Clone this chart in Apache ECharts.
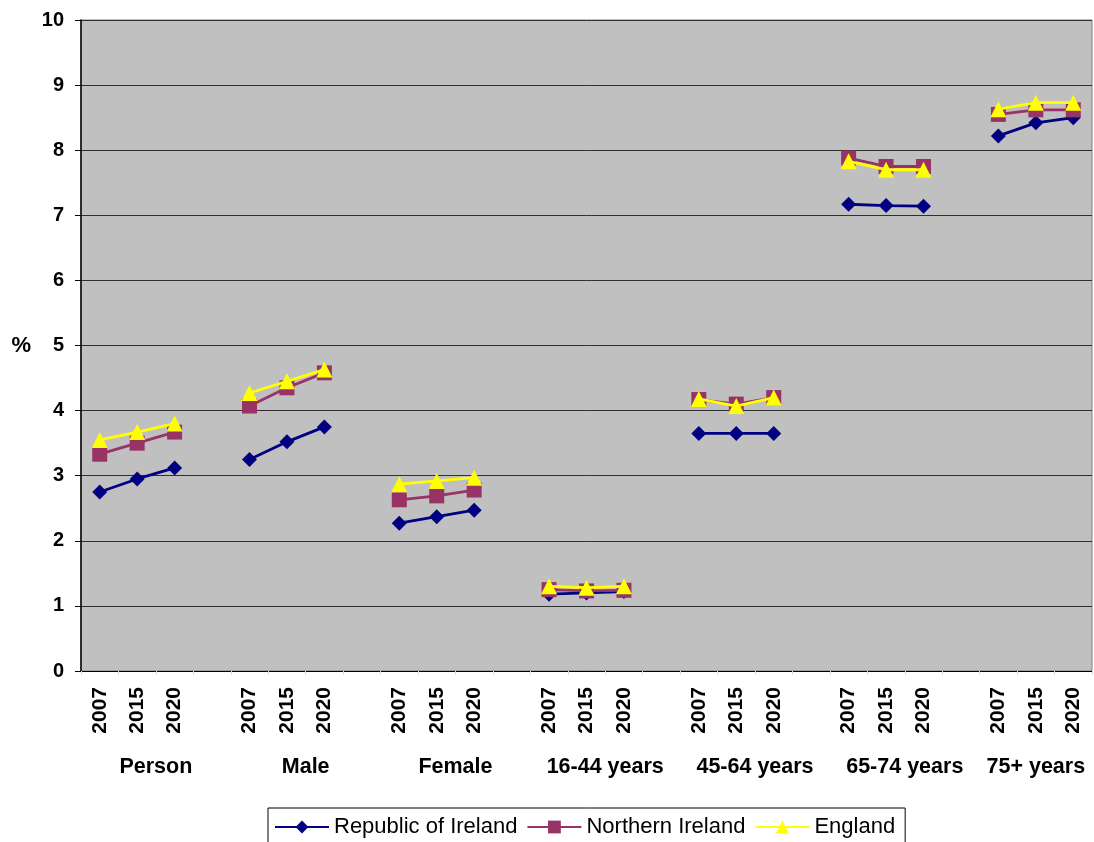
<!DOCTYPE html>
<html>
<head>
<meta charset="utf-8">
<script src="https://cdn.jsdelivr.net/npm/echarts@6/dist/echarts.min.js"></script>
<style>html,body{margin:0;padding:0;background:#fff}#c{width:1094px;height:842px}</style>
</head>
<body>
<div id="c"></div>
<script>
const years = ['2007', '2015', '2020'];
const groups = ['Person', 'Male', 'Female', '16-44 years', '45-64 years', '65-74 years', '75+ years'];
const seriesNames = ['Republic of Ireland', 'Northern Ireland', 'England'];
const roi = [[2.75, 2.95, 3.12], [3.25, 3.52, 3.75], [2.27, 2.37, 2.47], [1.18, 1.20, 1.22], [3.65, 3.65, 3.65], [7.17, 7.15, 7.14], [8.22, 8.42, 8.50]];
const ni = [[3.33, 3.50, 3.67], [4.07, 4.35, 4.58], [2.63, 2.69, 2.78], [1.25, 1.23, 1.24], [4.17, 4.10, 4.20], [7.88, 7.75, 7.75], [8.55, 8.62, 8.62]];
const eng = [[3.55, 3.67, 3.80], [4.27, 4.45, 4.63], [2.87, 2.92, 2.97], [1.30, 1.28, 1.30], [4.18, 4.07, 4.20], [7.83, 7.70, 7.70], [8.63, 8.73, 8.73]];
const yTicks = [0, 1, 2, 3, 4, 5, 6, 7, 8, 9, 10];

// build flat category list with a blank gap between groups
const cats = [];
const groupCenters = [];
groups.forEach((g, i) => {
  const start = cats.length;
  years.forEach(y => cats.push(y));
  if (i < groups.length - 1) cats.push('');
  groupCenters.push((start + cats.length) / 2);
});
function flatten(arr) {
  const out = [];
  arr.forEach((grp, i) => {
    grp.forEach(v => out.push(v));
    if (i < arr.length - 1) out.push(null);
  });
  return out;
}
const colors = ['#000080', '#993366', '#FFFF00'];
const symbols = ['diamond', 'rect', 'triangle'];
const sizes = [15, 15, 16];
const dataSets = [roi, ni, eng];

const chart = echarts.init(document.getElementById('c'), null, {renderer: 'canvas'});
chart.setOption({
  animation: false,
  textStyle: {fontFamily: 'Liberation Sans, Arial, sans-serif'},
  grid: {left: 81, top: 20, right: 2, bottom: 171, show: true, backgroundColor: '#C0C0C0', borderColor: '#808080', borderWidth: 1},
  legend: {
    left: 268, top: 808,
    data: seriesNames,
    itemWidth: 54, itemHeight: 16, itemGap: 9,
    padding: [8, 10, 12, 6],
    borderColor: '#000', borderWidth: 1,
    textStyle: {fontSize: 22, color: '#000', fontFamily: 'Liberation Sans, Arial, sans-serif'}
  },
  xAxis: [{
    type: 'category',
    data: cats,
    boundaryGap: true,
    axisLine: {lineStyle: {color: '#000', width: 1}},
    axisTick: {show: true, interval: 0, length: 4, lineStyle: {color: '#ddd'}},
    axisLabel: {interval: 0, rotate: 90, margin: 16, fontSize: 21, fontWeight: 'bold', color: '#000'}
  }, {
    type: 'value',
    min: 0, max: cats.length,
    position: 'bottom',
    axisLine: {show: false}, axisTick: {show: false}, splitLine: {show: false},
    axisLabel: {
      customValues: groupCenters,
      margin: 85, fontSize: 21.5, fontWeight: 'bold', color: '#000',
      formatter: v => {
        const i = groupCenters.findIndex(c => Math.abs(c - v) < 1e-6);
        return i >= 0 ? groups[i] : '';
      }
    }
  }],
  yAxis: {
    type: 'value', min: 0, max: 10, interval: 1,
    name: '%', nameLocation: 'middle', nameRotate: 0, nameGap: 50,
    nameTextStyle: {fontSize: 22, fontWeight: 'bold', color: '#000'},
    axisLine: {show: true, lineStyle: {color: '#000', width: 1.5}},
    axisTick: {show: true, length: 6, lineStyle: {color: '#000'}},
    axisLabel: {margin: 17, fontSize: 20, fontWeight: 'bold', color: '#000',
      formatter: v => yTicks.includes(v) ? String(v) : ''},
    splitLine: {lineStyle: {color: '#303030', width: 1}}
  },
  series: seriesNames.map((name, i) => ({
    name, type: 'line', xAxisIndex: 0,
    data: flatten(dataSets[i]),
    connectNulls: false,
    symbol: symbols[i], symbolSize: sizes[i],
    lineStyle: {color: colors[i], width: 2.8},
    itemStyle: {color: colors[i]},
    z: 2 + i
  }))
});
</script>
</body>
</html>
